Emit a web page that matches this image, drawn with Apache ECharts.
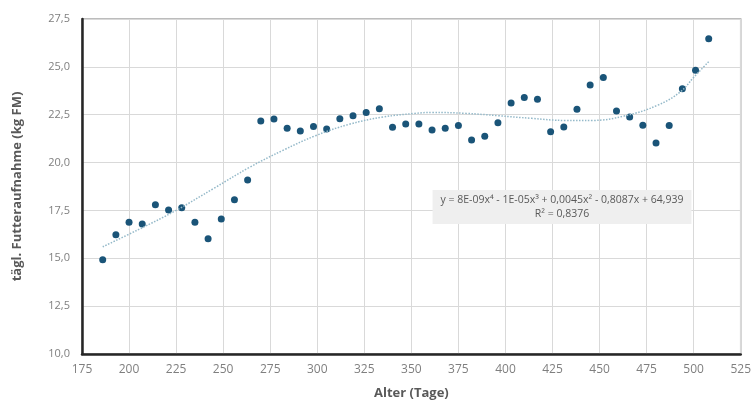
<!DOCTYPE html>
<html>
<head>
<meta charset="utf-8">
<script src="https://cdn.jsdelivr.net/npm/echarts@6/dist/echarts.min.js"></script>
<style>
html,body{margin:0;padding:0;background:#fff;}
#chart{width:754px;height:408px;}
</style>
</head>
<body>
<div id="chart"></div>
<script>
// Alter (Tage) der Messungen
var ageDays = [186,193,200,207,214,221,228,235,242,249,256,263,270,277,284,291,298,305,312,319,326,333,340,347,354,361,368,375,382,389,396,403,410,417,424,431,438,445,452,459,466,473,480,487,494,501,508];
// tägliche Futteraufnahme (kg FM)
var intake = [14.93,16.23,16.88,16.79,17.80,17.52,17.64,16.88,16.02,17.05,18.06,19.09,22.17,22.28,21.79,21.65,21.88,21.76,22.29,22.45,22.61,22.81,21.84,22.02,22.02,21.70,21.79,21.94,21.18,21.37,22.08,23.11,23.40,23.31,21.61,21.86,22.78,24.05,24.44,22.70,22.38,21.95,21.02,21.94,23.86,24.82,26.47];
// Trendlinie (Polynom 4. Grades)
var trendDays = [186,205,225,245,264,282,299,317,335,352,361,379,396,414,432,446,463,481,493,500,508];
var trendVals = [15.6,16.5,17.5,18.65,19.75,20.65,21.4,22.0,22.38,22.57,22.62,22.57,22.45,22.31,22.2,22.2,22.43,23.0,23.7,24.45,25.27];

var xTicks = {min:175, max:525, step:25};
var yTicks = {min:10, max:27.5, step:2.5};

var fontFam = '"Open Sans", sans-serif';

var points = ageDays.map(function(d,i){ return [d, intake[i]]; });
var trend = trendDays.map(function(d,i){ return [d, trendVals[i]]; });

var chart = echarts.init(document.getElementById('chart'));
chart.setOption({
    animation:false,
    backgroundColor:'#fff',
    grid:{
        left:82, right:11, top:19, bottom:54,
        show:true,
        borderColor:'#a6a6a6',
        borderWidth:1.5
    },
    xAxis:{
        type:'value',
        min:xTicks.min, max:xTicks.max, interval:xTicks.step,
        name:'Alter (Tage)',
        nameLocation:'middle',
        nameGap:33,
        nameTextStyle:{color:'#595959', fontSize:13, fontWeight:'bold', fontFamily:fontFam},
        axisLine:{lineStyle:{color:'#262626', width:2.5}},
        axisTick:{show:false},
        axisLabel:{color:'#7f7f7f', fontSize:12, fontFamily:fontFam, margin:10},
        splitLine:{lineStyle:{color:'#d9d9d9'}}
    },
    yAxis:{
        type:'value',
        min:yTicks.min, max:yTicks.max, interval:yTicks.step,
        name:'tägl. Futteraufnahme (kg FM)',
        nameLocation:'middle',
        nameGap:58,
        nameTextStyle:{color:'#595959', fontSize:13, fontWeight:'bold', fontFamily:fontFam},
        axisLine:{show:true, lineStyle:{color:'#262626', width:2.5}},
        axisTick:{show:false},
        axisLabel:{
            color:'#7f7f7f', fontSize:11, fontFamily:fontFam, margin:12,
            formatter:function(v){ return v.toFixed(1).replace('.', ','); }
        },
        splitLine:{lineStyle:{color:'#d9d9d9'}}
    },
    series:[
        {
            name:'Futteraufnahme',
            type:'scatter',
            data:points,
            symbolSize:7,
            itemStyle:{color:'#1a5478', opacity:1}
        },
        {
            name:'Trend',
            type:'line',
            data:trend,
            smooth:0.4,
            showSymbol:false,
            z:3,
            lineStyle:{color:'#94b9c9', width:1.5, type:'dotted'}
        }
    ],
    graphic:[{
        type:'text',
        x:562, y:190,
        z:100,
        style:{
            text:'y = 8E-09x⁴ - 1E-05x³ + 0,0045x² - 0,8087x + 64,939\nR² = 0,8376',
            align:'center',
            fill:'#595959',
            font:'10.5px ' + fontFam,
            lineHeight:14,
            backgroundColor:'#efefef',
            padding:[3,8]
        }
    }]
});
</script>
</body>
</html>
